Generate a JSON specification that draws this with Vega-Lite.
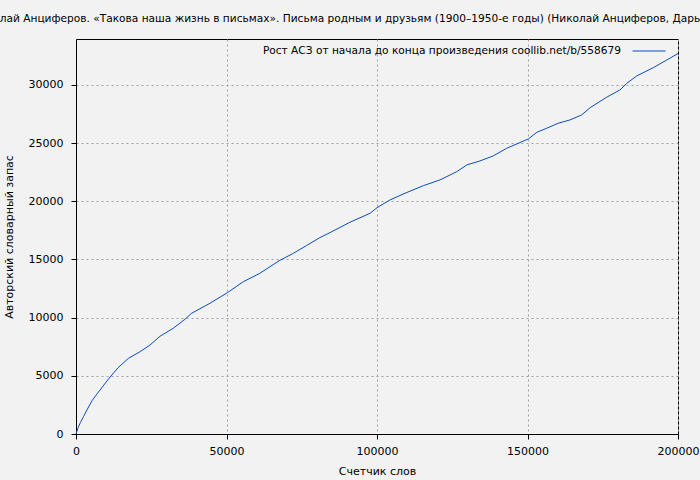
{
  "$schema": "https://vega.github.io/schema/vega-lite/v6.json",
  "autosize": {"type": "none"},
  "padding": {"left": 76, "top": 39, "right": 22, "bottom": 46},
  "width": 602,
  "height": 395,
  "background": "#f2f2f2",
  "title": {
    "text": "лай Анциферов. «Такова наша жизнь в письмах». Письма родным и друзьям (1900–1950-е годы) (Николай Анциферов, Дарь",
    "anchor": "middle",
    "frame": "group",
    "dx": -27,
    "offset": 9,
    "font": "DejaVu Sans",
    "fontSize": 10.6,
    "fontWeight": "normal",
    "color": "#000000"
  },
  "config": {
    "font": "DejaVu Sans",
    "view": {"stroke": "#000000", "strokeWidth": 1, "fill": "#f2f2f2"},
    "axis": {
      "domainColor": "#000000",
      "tickColor": "#000000",
      "tickSize": 5,
      "labelFont": "DejaVu Sans",
      "labelFontSize": 11,
      "labelColor": "#000000",
      "titleFont": "DejaVu Sans",
      "titleFontSize": 11,
      "titleFontWeight": "normal",
      "titleColor": "#000000",
      "gridColor": "#a0a0a0",
      "gridDash": [2, 3],
      "gridOpacity": 1,
      "gridWidth": 1
    }
  },
  "data": {
    "values": [
      {"words": 0, "vocab": 0},
      {"words": 700, "vocab": 550},
      {"words": 1500, "vocab": 1000},
      {"words": 2500, "vocab": 1500},
      {"words": 3800, "vocab": 2150},
      {"words": 5300, "vocab": 2850},
      {"words": 7000, "vocab": 3450},
      {"words": 8500, "vocab": 3950},
      {"words": 11000, "vocab": 4800},
      {"words": 14000, "vocab": 5700},
      {"words": 17400, "vocab": 6500},
      {"words": 21300, "vocab": 7080},
      {"words": 24600, "vocab": 7650},
      {"words": 27900, "vocab": 8400},
      {"words": 32300, "vocab": 9086},
      {"words": 36200, "vocab": 9860},
      {"words": 38400, "vocab": 10376},
      {"words": 44500, "vocab": 11235},
      {"words": 50300, "vocab": 12146},
      {"words": 55600, "vocab": 13092},
      {"words": 61100, "vocab": 13814},
      {"words": 67500, "vocab": 14897},
      {"words": 72000, "vocab": 15500},
      {"words": 76600, "vocab": 16200},
      {"words": 81000, "vocab": 16875},
      {"words": 85000, "vocab": 17390},
      {"words": 91000, "vocab": 18198},
      {"words": 97700, "vocab": 18972},
      {"words": 100000, "vocab": 19450},
      {"words": 104300, "vocab": 20115},
      {"words": 109300, "vocab": 20691},
      {"words": 115400, "vocab": 21345},
      {"words": 120900, "vocab": 21835},
      {"words": 126500, "vocab": 22548},
      {"words": 129800, "vocab": 23124},
      {"words": 134200, "vocab": 23468},
      {"words": 138600, "vocab": 23898},
      {"words": 143100, "vocab": 24560},
      {"words": 146400, "vocab": 24929},
      {"words": 150300, "vocab": 25359},
      {"words": 153100, "vocab": 25935},
      {"words": 156400, "vocab": 26279},
      {"words": 160200, "vocab": 26709},
      {"words": 164100, "vocab": 26993},
      {"words": 168000, "vocab": 27422},
      {"words": 170800, "vocab": 28050},
      {"words": 176300, "vocab": 28944},
      {"words": 180700, "vocab": 29571},
      {"words": 183000, "vocab": 30147},
      {"words": 186300, "vocab": 30775},
      {"words": 191800, "vocab": 31488},
      {"words": 196300, "vocab": 32150},
      {"words": 200000, "vocab": 32700}
    ]
  },
  "mark": {"type": "line", "strokeWidth": 1, "interpolate": "linear"},
  "encoding": {
    "x": {
      "field": "words",
      "type": "quantitative",
      "title": "Счетчик слов",
      "scale": {"domain": [0, 200000], "nice": false, "zero": true},
      "axis": {"values": [0, 50000, 100000, 150000, 200000], "format": "d", "labelFlush": false, "titlePadding": 9, "labelPadding": 6}
    },
    "y": {
      "field": "vocab",
      "type": "quantitative",
      "title": "Авторский словарный запас",
      "scale": {"domain": [0, 33950], "nice": false},
      "axis": {"values": [0, 5000, 10000, 15000, 20000, 25000, 30000], "format": "d", "labelPadding": 8, "titlePadding": 14}
    },
    "color": {
      "datum": "Рост АСЗ от начала до конца произведения  coollib.net/b/558679",
      "scale": {"range": ["#0b4bbb"]},
      "legend": {
        "title": null,
        "orient": "none",
        "legendX": 556,
        "legendY": -5,
        "padding": 0,
        "symbolType": "stroke",
        "symbolSize": 1089,
        "symbolStrokeWidth": 1,
        "labelAlign": "right",
        "labelOffset": -45,
        "labelFont": "DejaVu Sans",
        "labelFontSize": 10.6,
        "labelColor": "#000000",
        "labelLimit": 600
      }
    }
  }
}
